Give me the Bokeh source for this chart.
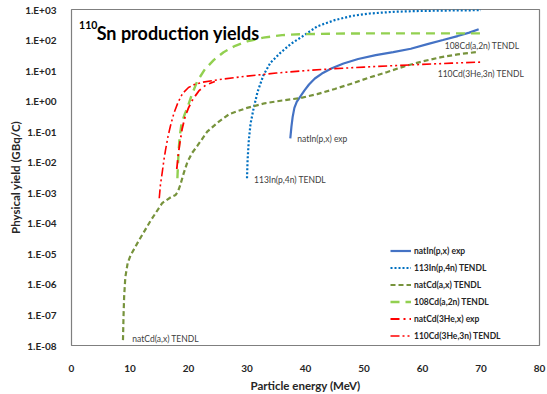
from bokeh.plotting import figure
from bokeh.models import (Legend, LegendItem, FixedTicker, CustomJSTickFormatter)
from bokeh.core.properties import value
from bokeh.embed import file_html
from bokeh.resources import INLINE

FONT = "Lato"

# --- data: energy (MeV) and physical yield (GBq/C) ---
natIn_px_E = [37.4, 37.6, 37.8, 38.1, 38.5, 39.1, 39.8, 40.6, 41.6, 42.8, 44.5, 46.5,
              49.0, 52.0, 55.0, 58.0, 61.0, 63.5, 66.0, 68.0, 69.6]
natIn_px_Y = [0.06, 0.15, 0.3, 0.6, 0.95, 1.4, 2.2, 3.5, 5.5, 8.0, 12.0, 17.0,
              24.0, 32.0, 40.0, 52.0, 75.0, 100.0, 135.0, 175.0, 225.0]

In113_p4n_E = [30.0, 30.1, 30.3, 30.6, 31.1, 31.8, 32.8, 34.0, 35.7, 37.5, 39.7, 42.0,
               45.0, 48.0, 51.0, 55.0, 60.0, 65.0, 70.0]
In113_p4n_Y = [0.003, 0.012, 0.05, 0.18, 0.54, 2.0, 7.0, 18.0, 38.0, 75.0, 140.0, 280.0,
               450.0, 620.0, 740.0, 840.0, 900.0, 930.0, 950.0]

natCd_ax_E = [8.8, 8.9, 9.0, 9.2, 9.6, 10.1, 11.5, 13.5, 15.5, 17.0, 17.8, 18.2, 18.6,
              19.2, 19.8, 20.6, 21.5, 23.2, 25.0, 27.0, 30.0, 33.0, 36.0, 39.0, 42.0,
              45.0, 48.0, 51.0, 54.0, 57.0, 60.0, 63.0, 66.0, 69.5]
natCd_ax_Y = [1.5e-8, 1e-7, 4e-7, 1.7e-6, 5e-6, 9e-6, 2.7e-5, 1.2e-4, 4.6e-4, 7.2e-4,
              8.5e-4, 1.1e-3, 1.8e-3, 4.5e-3, 1e-2, 2e-2, 3.4e-2, 0.1, 0.2, 0.38,
              0.6, 0.85, 1.05, 1.25, 1.7, 2.5, 3.8, 6.0, 9.0, 14.0, 20.0, 27.0, 34.0, 41.0]

Cd108_a2n_E = [18.1, 18.2, 18.3, 18.5, 18.8, 19.3, 19.8, 20.5, 21.5, 22.8, 24.3, 26.0,
               28.0, 30.0, 32.8, 36.0, 39.0, 45.0, 50.0, 60.0, 70.0]
Cd108_a2n_Y = [0.003, 0.008, 0.022, 0.07, 0.18, 0.35, 0.6, 1.5, 4.5, 11.0, 22.0, 40.0,
               65.0, 90.0, 120.0, 145.0, 155.0, 162.0, 165.0, 165.0, 165.0]

natCd_3He_E = [18.0, 18.2, 18.5, 18.9, 19.4, 20.0, 20.8, 21.8, 23.0, 24.5]
natCd_3He_Y = [0.006, 0.015, 0.04, 0.12, 0.3, 0.6, 1.2, 2.2, 3.4, 4.4]

Cd110_3He3n_E = [15.0, 15.2, 15.5, 15.8, 16.1, 16.5, 16.9, 17.5, 18.2, 19.0, 20.0, 21.0,
                 22.5, 25.0, 30.0, 35.0, 40.0, 45.0, 50.0, 55.0, 60.0, 65.0, 70.0]
Cd110_3He3n_Y = [6.6e-4, 1.8e-3, 0.0045, 0.012, 0.027, 0.07, 0.15, 0.4, 0.9, 1.8, 2.8, 3.5,
                 4.2, 5.0, 6.6, 8.3, 10.0, 11.6, 13.0, 14.5, 16.0, 17.5, 19.0]

# axis ticks and labels
x_ticks = [0, 10, 20, 30, 40, 50, 60, 70, 80]
y_ticks = [1e-8, 1e-7, 1e-6, 1e-5, 1e-4, 1e-3, 1e-2, 1e-1, 1e0, 1e1, 1e2, 1e3]
y_tick_labels = ["1.E-08", "1.E-07", "1.E-06", "1.E-05", "1.E-04", "1.E-03",
                 "1.E-02", "1.E-01", "1.E+00", "1.E+01", "1.E+02", "1.E+03"]

series_names = ["natIn(p,x) exp", "113In(p,4n) TENDL", "natCd(a,x) TENDL",
                "108Cd(a,2n) TENDL", "natCd(3He,x) exp", "110Cd(3He,3n) TENDL"]

p = figure(width=547, height=394, y_axis_type="log",
           x_range=(0, 80), y_range=(1e-8, 1e3),
           output_backend="svg", toolbar_location=None,
           min_border_left=71, min_border_right=8,
           min_border_top=9, min_border_bottom=45)
p.grid.visible = False
p.outline_line_color = "#7f7f7f"
p.outline_line_width = 1.2
p.background_fill_color = "white"
p.border_fill_color = "white"

for ax in (p.xaxis[0], p.yaxis[0]):
    ax.axis_line_color = None
    ax.major_tick_line_color = None
    ax.minor_tick_line_color = None
    ax.major_label_text_font = FONT
    ax.major_label_text_font_style = "bold"
    ax.major_label_text_font_size = "10px"
    ax.major_label_text_color = "#262626"
    ax.axis_label_text_font = FONT
    ax.axis_label_text_font_style = "bold"
    ax.axis_label_text_font_size = "11.5px"
    ax.axis_label_text_color = "#262626"

p.xaxis.ticker = FixedTicker(ticks=x_ticks)
p.xaxis.major_label_standoff = 13
p.xaxis.axis_label = "Particle energy (MeV)"
p.xaxis.axis_label_standoff = 4

p.yaxis.ticker = FixedTicker(ticks=y_ticks, minor_ticks=[])
p.yaxis.formatter = CustomJSTickFormatter(
    args=dict(tvals=y_ticks, tlabels=y_tick_labels),
    code="""
        let best = 0, d = 1e9;
        for (let i = 0; i < tvals.length; i++) {
            const e = Math.abs(Math.log10(tvals[i]) - Math.log10(tick));
            if (e < d) { d = e; best = i; }
        }
        return tlabels[best];
    """)
p.yaxis.major_label_standoff = 9
p.yaxis.axis_label = "Physical yield (GBq/C)"
p.yaxis.axis_label_standoff = 0

r1 = p.line(natIn_px_E, natIn_px_Y, line_color="#4472C4", line_width=2.2)
r2 = p.line(In113_p4n_E, In113_p4n_Y, line_color="#0070C0", line_width=2.2,
            line_dash="2 2")
r3 = p.line(natCd_ax_E, natCd_ax_Y, line_color="#77933C", line_width=2.2,
            line_dash="5 3")
r4 = p.line(Cd108_a2n_E, Cd108_a2n_Y, line_color="#92D050", line_width=2.4,
            line_dash="9 6")
r5 = p.line(natCd_3He_E, natCd_3He_Y, line_color="#FF0000", line_width=1.8,
            line_dash="9 4 2 4")
r6 = p.line(Cd110_3He3n_E, Cd110_3He3n_Y, line_color="#FF0000", line_width=1.6,
            line_dash="9 3 2 3 2 3")

legend = Legend(items=[LegendItem(label=n, renderers=[r])
                       for n, r in zip(series_names, [r1, r2, r3, r4, r5, r6])],
                location=(319, 1), orientation="vertical",
                glyph_width=21, glyph_height=17, label_height=17,
                spacing=0, padding=2, margin=0, label_standoff=3,
                border_line_color=None, background_fill_alpha=0,
                label_text_font=FONT, label_text_font_style="bold",
                label_text_font_size="8.5px", label_text_color="#262626")
p.add_layout(legend, "center")

# curve annotations
ann_text = ["108Cd(a,2n) TENDL", "110Cd(3He,3n) TENDL", "natIn(p,x) exp",
            "113In(p,4n) TENDL", "natCd(a,x) TENDL"]
ann_x = [63.8, 62.6, 38.6, 31.2, 10.4]
ann_y = [63.0, 8.0, 0.057, 0.0027, 1.6e-8]
p.text(x=ann_x, y=ann_y, text=ann_text, text_font=value(FONT),
       text_font_size="8.5px", text_color="#404040",
       text_baseline="middle", text_align="left")

# title with superscript mass number
p.text(x=[1.3], y=[300.0], text=["110"], text_font=value(FONT),
       text_font_style="bold", text_font_size="10.5px", text_color="black",
       text_baseline="alphabetic")
p.text(x=[4.3], y=[170.0], text=["Sn production yields"], text_font=value(FONT),
       text_font_style="bold", text_font_size="18px", text_color="black",
       text_baseline="alphabetic")

open("out.html", "w").write(file_html(p, INLINE))
